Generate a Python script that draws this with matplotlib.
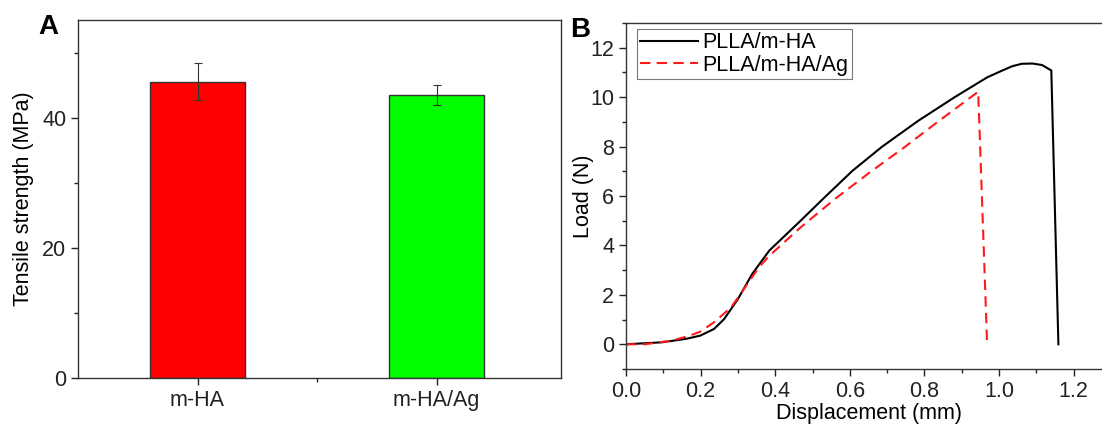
import numpy as np
import matplotlib
matplotlib.use('Agg')
import matplotlib.pyplot as plt
from matplotlib.ticker import MultipleLocator, FixedLocator

# Панель A: прочность на разрыв
groups = ['m-HA', 'm-HA/Ag']
strength = [45.5, 43.5]
strength_err = [2.85, 1.55]
bar_colors = ['#ff0000', '#00ff00']

# Панель B: кривые нагрузка-перемещение
disp_ha = [0.0, 0.096, 0.161, 0.199, 0.236, 0.263, 0.30, 0.338, 0.384, 0.468,
           0.532, 0.607, 0.686, 0.783, 0.880, 0.968, 1.006, 1.035, 1.061, 1.09, 1.115, 1.14, 1.159]
load_ha = [0.0, 0.08, 0.22, 0.35, 0.62, 1.02, 1.83, 2.84, 3.79, 5.0,
           5.94, 7.02, 7.99, 9.04, 9.99, 10.8, 11.06, 11.25, 11.35, 11.36, 11.3, 11.08, 0.0]
disp_ag = [0.0, 0.05, 0.124, 0.171, 0.199, 0.236, 0.282, 0.319, 0.356, 0.384,
           0.468, 0.560, 0.653, 0.746, 0.839, 0.944, 0.968]
load_ag = [0.0, 0.0, 0.15, 0.35, 0.51, 0.89, 1.5, 2.3, 3.11, 3.58,
           4.73, 5.88, 6.95, 7.97, 9.04, 10.22, 0.0]

plt.rcParams['font.family'] = ['Liberation Sans', 'DejaVu Sans']
plt.rcParams['font.size'] = 15.5

fig = plt.figure(figsize=(11.02, 4.25), dpi=100)

# --- A ---
ax1 = fig.add_axes([78 / 1102, 47 / 425, 483 / 1102, 358 / 425])
x = np.arange(1, len(groups) + 1)
ax1.bar(x, strength, width=0.4, color=bar_colors, edgecolor='#333333', linewidth=1,
        yerr=strength_err, error_kw=dict(ecolor='#333333', elinewidth=0.8, capsize=3, capthick=0.8))
ax1.set_xlim(0.5, 2.52)
ax1.set_ylim(0, 55)
ax1.set_xticks(x)
ax1.set_xticklabels(groups)
ax1.xaxis.set_minor_locator(FixedLocator([1.5]))
ax1.yaxis.set_major_locator(MultipleLocator(20))
ax1.yaxis.set_minor_locator(MultipleLocator(10))
ax1.set_ylabel('Tensile strength (MPa)', labelpad=6)

# --- B ---
ax2 = fig.add_axes([626 / 1102, 56 / 425, 485 / 1102, 346 / 425])
ax2.plot(disp_ha, load_ha, color='black', lw=1.5, label='PLLA/m-HA')
ax2.plot(disp_ag, load_ag, color='#ff1a1a', lw=1.5, dashes=(5, 3), label='PLLA/m-HA/Ag')
ax2.set_xlim(0, 1.3)
ax2.set_ylim(-1, 13)
ax2.xaxis.set_major_locator(MultipleLocator(0.2))
ax2.xaxis.set_minor_locator(MultipleLocator(0.1))
ax2.yaxis.set_major_locator(MultipleLocator(2))
ax2.yaxis.set_minor_locator(MultipleLocator(1))
ax2.set_xticks(np.arange(0, 1.21, 0.2))
ax2.set_xlabel('Displacement (mm)', labelpad=1)
ax2.set_ylabel('Load (N)', labelpad=-3)
leg = ax2.legend(loc='upper left', bbox_to_anchor=(0.022, 0.982), fancybox=False,
                 edgecolor='#777777', framealpha=1, handlelength=2.7, handletextpad=0.2,
                 borderpad=0.15, labelspacing=0.05, borderaxespad=0, fontsize=15.5)
leg.get_frame().set_linewidth(0.8)

for ax in (ax1, ax2):
    ax.tick_params(which='major', direction='out', length=5, width=1, colors='#222222', labelcolor='#222222')
    ax.tick_params(which='minor', direction='out', length=3, width=1, colors='#222222')
    for s in ax.spines.values():
        s.set_color('#333333')
        s.set_linewidth(1)

fig.text(48 / 1102, 1 - 27 / 425, 'A', fontsize=20, fontweight='bold', ha='center', va='center')
fig.text(580 / 1102, 1 - 30 / 425, 'B', fontsize=20, fontweight='bold', ha='center', va='center')

fig.savefig('out.png', dpi=100)
